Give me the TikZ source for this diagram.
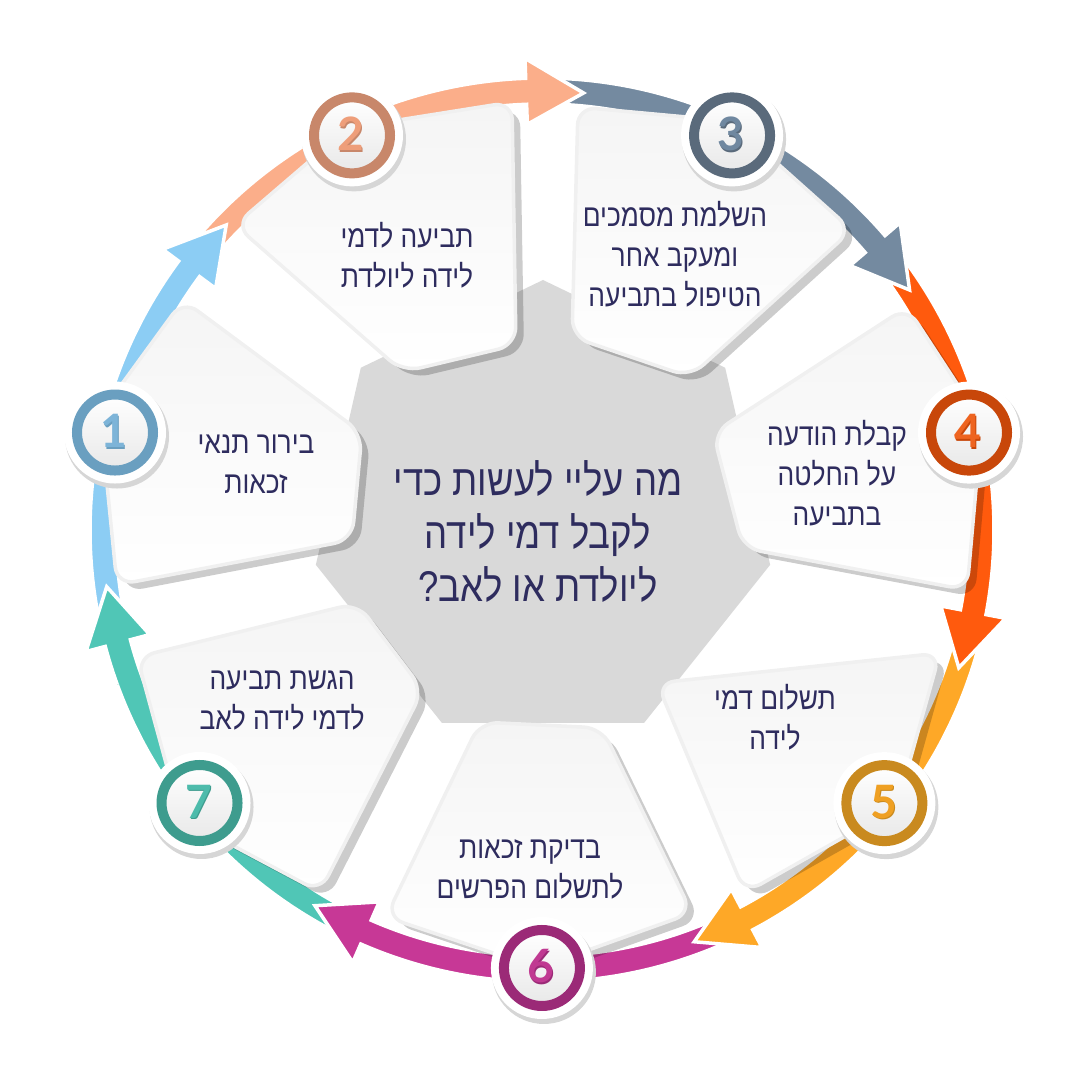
\documentclass[tikz,border=0pt]{standalone}
\usepackage{fontspec}
\setmainfont{Liberation Sans}
\newfontfamily\hebfont[Script=Hebrew,FakeStretch=0.85]{Liberation Sans}
\newfontfamily\numfont{Lato}
\TeXXeTstate=1
\usetikzlibrary{calc,positioning}

\definecolor{ink}{HTML}{2E2C5E}
\definecolor{hubgray}{HTML}{D9D9D9}
\definecolor{arrA}{HTML}{8CCDF4}\definecolor{ringA}{HTML}{6A9FC0}\definecolor{digA}{HTML}{7DB4D8}
\definecolor{arrB}{HTML}{FBAE8A}\definecolor{ringB}{HTML}{C8876A}\definecolor{digB}{HTML}{EE9E7A}
\definecolor{arrC}{HTML}{748AA0}\definecolor{ringC}{HTML}{5A6A7B}\definecolor{digC}{HTML}{7088A0}
\definecolor{arrD}{HTML}{FF5A0D}\definecolor{ringD}{HTML}{C8470A}\definecolor{digD}{HTML}{EE6420}
\definecolor{arrE}{HTML}{FEA827}\definecolor{ringE}{HTML}{C98A1F}\definecolor{digE}{HTML}{EFA023}
\definecolor{arrF}{HTML}{C73896}\definecolor{ringF}{HTML}{9B2A77}\definecolor{digF}{HTML}{C03A92}
\definecolor{arrG}{HTML}{50C6B6}\definecolor{ringG}{HTML}{3E9C8E}\definecolor{digG}{HTML}{4DBBAB}

% one coloured piece of the ring: colour, start angle, tip angle
\newcommand{\ringarrow}[3]{%
  \fill[#1, draw=white, line width=3.5pt]
    (#2:452) arc[start angle=#2, end angle=#3+7.5, radius=452]
    -- (#3+7.5:472) -- (#3:439) -- (#3+7.5:406)
    -- (#3+7.5:426) arc[start angle=#3+7.5, end angle=#2, radius=426] -- cycle;}

% one card with its shadow
\newcommand{\stepcard}[1]{%
  \fill[cardshadow] #1 -- cycle;
  \draw[card] #1 -- cycle;}

\begin{document}
\begin{tikzpicture}[x=1pt,y=1pt,
  card/.style={draw=black!6, line width=3.5pt, rounded corners=18pt,
               top color=black!4, bottom color=white},
  cardshadow/.style={black, opacity=0.2, rounded corners=18pt, shift={(8,-7)}},
  steptext/.style={text=ink, align=center,
                   font=\hebfont\fontsize{31}{40}\selectfont},
  badge/.style={circle, minimum size=76pt, inner sep=0pt, line width=10pt,
                top color=white, bottom color=black!9,
                font=\numfont\bfseries\fontsize{46}{46}\selectfont}]

  \useasboundingbox (0,0) rectangle (1080,1080);

  % ring of arrows
  \begin{scope}[shift={(542,550)}]
    \ringarrow{arrG}{-113.64}{-172.57}
    \ringarrow{arrF}{-62.21}{-121.14}
    \ringarrow{arrE}{-10.79}{-69.71}
    \ringarrow{arrD}{40.64}{-18.29}
    \ringarrow{arrC}{92.07}{33.14}
    \ringarrow{arrB}{143.5}{84.57}
    \ringarrow{arrA}{194.93}{136}
    \begin{scope}
      \clip (186:395) arc[start angle=186, end angle=200, radius=395]
        -- (200:485) arc[start angle=200, end angle=186, radius=485] -- cycle;
      \ringarrow{arrG}{-113.64}{-172.57}
    \end{scope}
  \end{scope}

  % centre
  \fill[hubgray] (543,567) ++(90:233)
    \foreach \k in {1,...,6}{ -- ($(543,567)+(90+\k*360/7:233)$)} -- cycle;

  % cards
  \stepcard{(183,780) -- (362,647) -- (352,540) -- (117,495) -- (100,666)}
  \stepcard{(348,952) -- (512,978) -- (516,735) -- (403,708) -- (235,855)}
  \stepcard{(578,973) -- (730,959) -- (852,850) -- (690,703) -- (572,743)}
  \stepcard{(907,773) -- (982,658) -- (967,490) -- (743,532) -- (713,647)}
  \stepcard{(657,397) -- (940,427) -- (897,273) -- (745,187)}
  \stepcard{(480,358) -- (602,352) -- (692,167) -- (538,112) -- (386,163)}
  \stepcard{(137,423) -- (357,477) -- (423,390) -- (320,188) -- (181,262)}

  \node (question) at (538,549) [text=ink, align=center,
        font=\hebfont\fontsize{43}{53}\selectfont]
        {\beginR מה עליי לעשות כדי\endR\\\beginR לקבל דמי לידה\endR\\\beginR ליולדת או לאב?\endR};

  \node (t1) at (256,616) [steptext] {\beginR בירור תנאי\endR\\\beginR זכאות\endR};
  \node (t2) at (407,825) [steptext] {\beginR תביעה לדמי\endR\\\beginR לידה ליולדת\endR};
  \node (t3) at (675,826) [steptext]
        {\beginR השלמת מסמכים\endR\\\beginR ומעקב אחר\endR\\\beginR הטיפול בתביעה\endR};
  \node (t4) at (837,607) [steptext]
        {\beginR קבלת הודעה\endR\\\beginR על החלטה\endR\\\beginR בתביעה\endR};
  \node (t5) at (775,363) [steptext] {\beginR תשלום דמי\endR\\\beginR לידה\endR};
  \node (t6) at (530,211) [steptext] {\beginR בדיקת זכאות\endR\\\beginR לתשלום הפרשים\endR};
  \node (t7) at (282,379) [steptext] {\beginR הגשת תביעה\endR\\\beginR לדמי לידה לאב\endR};

  % numbered badges
  \foreach \i/\c in {1/A,2/B,3/C,4/D,5/E,6/F,7/G}{
    \coordinate (c\i) at ($(542,550)+({218.57-51.43*\i}:438)$);
    \fill[black!16] ($(c\i)+(2,-4)$) circle (52);
    \fill[white] (c\i) circle (51);
    \node (n\i) at (c\i) [badge, draw=ring\c, text=ring\c] {\i};
    \node (d\i) at ($(c\i)+(-1,1.5)$) [font=\numfont\bfseries\fontsize{46}{46}\selectfont,
          inner sep=0pt, text=dig\c] {\i};
  }

\end{tikzpicture}
\end{document}
